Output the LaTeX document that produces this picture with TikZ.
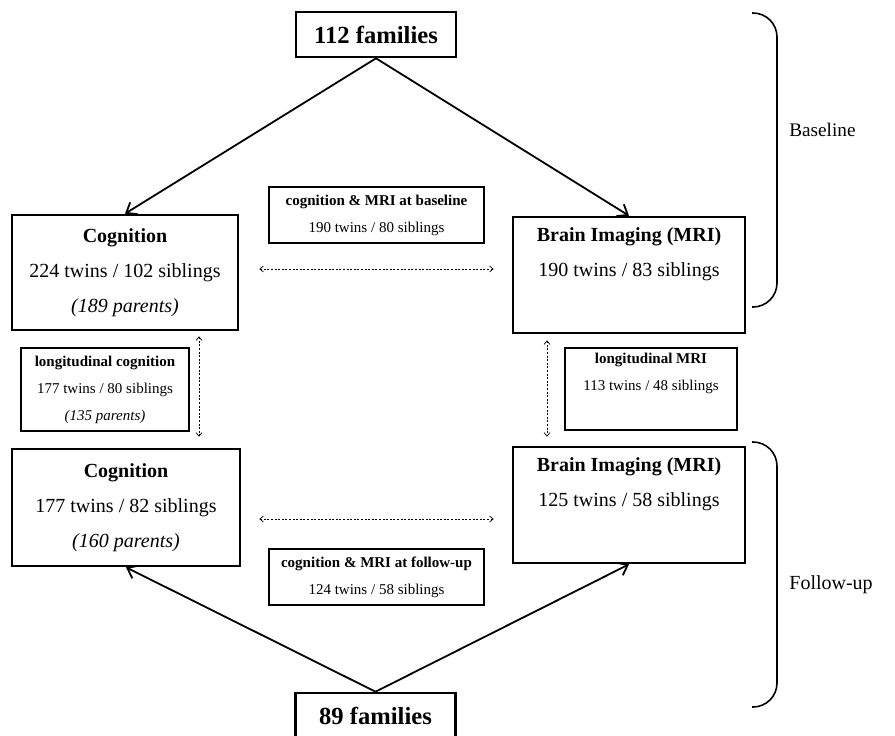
\documentclass[tikz,border=0pt]{standalone}
\usepackage{fontspec}
\setmainfont{Liberation Serif}
\usetikzlibrary{arrows.meta}

\tikzset{
  bigbox/.style={draw, line width=1.3pt, align=center, inner sep=0pt,
    font=\fontsize{10}{17.5}\selectfont},
  smallbox/.style={draw, line width=0.6pt, align=center, inner sep=0pt,
    font=\fontsize{7.5}{13.5}\selectfont},
  familybox/.style={draw, line width=1.3pt, inner sep=0pt,
    minimum width=80pt, minimum height=22.5pt,
    font=\fontsize{12.3}{14}\selectfont\bfseries},
  flow/.style={line width=0.9pt, -{Straight Barb[length=4.5pt,width=7pt]}},
  overlap/.style={line width=0.35pt, dash pattern=on 1pt off 0.8pt,
    {Straight Barb[length=1.8pt,width=3pt]}-{Straight Barb[length=1.8pt,width=3pt]}},
  period/.style={line width=0.8pt, rounded corners=12pt},
}

\begin{document}
\begin{tikzpicture}[x=0.5pt, y=-0.5pt]
  \useasboundingbox (0,0) rectangle (895,735);

  % families
  \node [familybox] (famA) at (376,34.5) {112 families};
  \node [familybox] (famB) at (375.5,715.5) {89 families};

  % baseline
  \node [bigbox, minimum width=113pt, minimum height=57.5pt] (cogA) at (125,272.5)
    {\textbf{Cognition}\\224 twins / 102 siblings\\\textit{(189 parents)}};
  \node [bigbox, minimum width=116pt, minimum height=58pt] (mriA) at (629,275)
    {\textbf{Brain Imaging (MRI)}\\190 twins / 83 siblings\\\strut};

  % follow-up
  \node [bigbox, minimum width=114pt, minimum height=58.5pt] (cogB) at (126,507.5)
    {\textbf{Cognition}\\177 twins / 82 siblings\\\textit{(160 parents)}};
  \node [bigbox, minimum width=116pt, minimum height=58pt] (mriB) at (629,505)
    {\textbf{Brain Imaging (MRI)}\\125 twins / 58 siblings\\\strut};

  % overlaps
  \node [smallbox, minimum width=107.5pt, minimum height=28pt] (bothA) at (376.5,215)
    {\textbf{cognition \& MRI at baseline}\\190 twins / 80 siblings};
  \node [smallbox, minimum width=107.5pt, minimum height=28pt] (bothB) at (376.5,577)
    {\textbf{cognition \& MRI at follow-up}\\124 twins / 58 siblings};
  \node [smallbox, minimum width=84pt, minimum height=41.5pt] (longcog) at (105,389.5)
    {\textbf{longitudinal cognition}\\177 twins / 80 siblings\\\textit{(135 parents)}};
  \node [smallbox, minimum width=86pt, minimum height=41pt] (longmri) at (651,389)
    {\textbf{longitudinal MRI}\\113 twins / 48 siblings\\\strut};

  \draw [flow] (famA.south) -- (cogA.north);
  \draw [flow] (famA.south) -- (mriA.north);
  \draw [flow] (famB.north) -- (cogB.south);
  \draw [flow] (famB.north) -- (mriB.south);

  \draw [overlap, shorten <=10pt, shorten >=9pt] ([yshift=1.75pt]cogA.east) -- ([yshift=3pt]mriA.west);
  \draw [overlap, shorten <=9pt, shorten >=9pt] ([yshift=-5.75pt]cogB.east) -- ([yshift=-7pt]mriB.west);
  \draw [overlap, shorten <=2.5pt, shorten >=5.5pt] ([xshift=37pt]cogA.south) -- ([xshift=36.5pt]cogB.north);
  \draw [overlap, shorten <=3pt, shorten >=4.5pt] ([xshift=-41pt]mriA.south) -- ([xshift=-41pt]mriB.north);

  % periods
  \draw [period] (752,13) -- (777,13) -- (777,307) -- (752,307);
  \draw [period] (752,442) -- (777,442) -- (777,707) -- (752,707);
  \node [anchor=west, inner sep=0pt, font=\fontsize{9.6}{12}\selectfont] (baselab) at (789,130) {Baseline};
  \node [anchor=west, inner sep=0pt, font=\fontsize{10}{12}\selectfont] (follab) at (789,585) {Follow-up};
\end{tikzpicture}
\end{document}
